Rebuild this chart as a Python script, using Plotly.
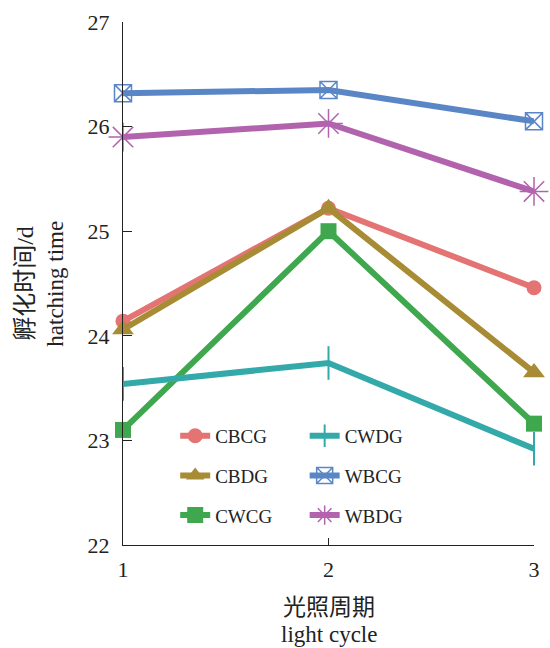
import plotly.graph_objects as go

cycles = [1, 2, 3]
series_names = ["CBCG", "CBDG", "CWCG", "CWDG", "WBCG", "WBDG"]
cbcg = [24.14, 25.22, 24.46]
cbdg = [24.06, 25.22, 23.65]
cwcg = [23.10, 25.00, 23.16]
cwdg = [23.54, 23.74, 22.92]
wbcg = [26.32, 26.35, 26.05]
wbdg = [25.90, 26.03, 25.38]
values = [cbcg, cbdg, cwcg, cwdg, wbcg, wbdg]

colors = ["#E47373", "#A88C35", "#3FA84F", "#33A9AA", "#5A86C6", "#B263AE"]
symbols = ["circle", "triangle-up", "square", "line-ns-open", "square-x-open", "asterisk-open"]
msizes = [15, 19, 16, 24, 17, 24]
mline_w = [0, 0, 0, 2, 1.5, 1.5]
legend_ids = ["legend", "legend", "legend", "legend2", "legend2", "legend2"]

SERIF = "Liberation Serif, Times New Roman, Noto Sans CJK SC, serif"

fig = go.Figure()
for name, vals, c, s, ms, mlw, lg in zip(series_names, values, colors, symbols, msizes, mline_w, legend_ids):
    fig.add_trace(go.Scatter(
        x=cycles, y=vals, name=name, mode="lines+markers",
        line=dict(color=c, width=6),
        marker=dict(symbol=s, size=ms, color=c, line=dict(color=c, width=mlw)),
        legend=lg, legendgroup=name, cliponaxis=False,
    ))

legend_common = dict(
    font=dict(family=SERIF, size=19, color="#222"),
    bgcolor="rgba(0,0,0,0)", tracegroupgap=12,
    xanchor="left", yanchor="top", itemwidth=30,
)

fig.update_layout(
    width=550, height=648,
    margin=dict(l=123, r=10, t=20, b=103),
    paper_bgcolor="white", plot_bgcolor="white",
    font=dict(family=SERIF, size=22, color="#222"),
    showlegend=True,
    legend=dict(x=0.127, y=0.245, **legend_common),
    legend2=dict(x=0.442, y=0.245, **legend_common),
    xaxis=dict(
        range=[1, 3], tickvals=cycles, ticktext=["1", "2", "3"],
        showline=True, linecolor="#222", linewidth=1.2,
        ticks="inside", ticklen=7, tickcolor="#222",
        showgrid=False, zeroline=False, ticklabelstandoff=4,
        tickfont=dict(family=SERIF, size=22, color="#222"),
    ),
    yaxis=dict(
        range=[22, 27], tickvals=[22, 23, 24, 25, 26, 27],
        showline=True, linecolor="#222", linewidth=1.2,
        ticks="inside", ticklen=9, tickcolor="#222",
        showgrid=False, zeroline=False, ticklabelstandoff=8,
        tickfont=dict(family=SERIF, size=22, color="#222"),
    ),
    annotations=[
        dict(text="孵化时间/d", x=-0.24, y=0.5, xref="paper", yref="paper",
             xanchor="center", yanchor="middle",
             textangle=-90, showarrow=False, font=dict(family=SERIF, size=24, color="#222")),
        dict(text="hatching time", x=-0.165, y=0.5, xref="paper", yref="paper",
             xanchor="center", yanchor="middle",
             textangle=-90, showarrow=False, font=dict(family=SERIF, size=23, color="#222")),
        dict(text="光照周期", x=0.5, y=-0.12, xref="paper", yref="paper",
             xanchor="center", yanchor="middle",
             showarrow=False, font=dict(family=SERIF, size=23, color="#222")),
        dict(text="light cycle", x=0.5, y=-0.171, xref="paper", yref="paper",
             xanchor="center", yanchor="middle",
             showarrow=False, font=dict(family=SERIF, size=23, color="#222")),
    ],
)

fig.write_html("out.html")
